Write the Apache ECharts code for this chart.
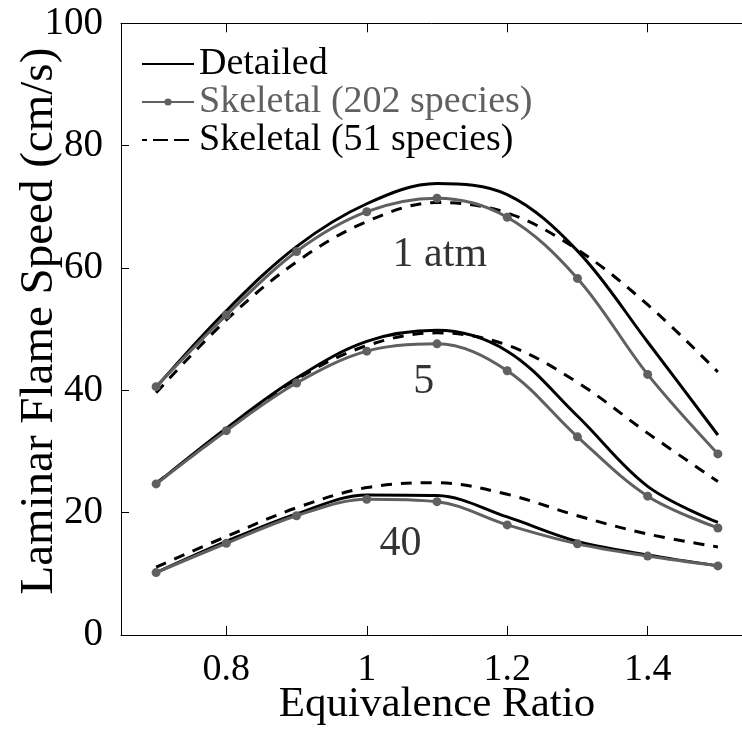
<!DOCTYPE html>
<html>
<head>
<meta charset="utf-8">
<script src="https://cdn.jsdelivr.net/npm/echarts@6/dist/echarts.min.js"></script>
<style>
html,body{margin:0;padding:0;background:#fff;}
#chart{width:742px;height:730px;}
</style>
</head>
<body>
<div id="chart"></div>
<script>
// Equivalence ratio values
const phi = [0.7, 0.8, 0.9, 1.0, 1.1, 1.2, 1.3, 1.4, 1.5];

// 1 atm
const detailed1   = [40.5, 53.0, 63.5, 70.5, 73.8, 72.0, 62.8, 47.9, 32.7];
const skel202_1   = [40.6, 52.3, 62.7, 69.2, 71.4, 68.3, 58.3, 42.6, 29.6];
const skel51_1    = [39.6, 51.5, 61.0, 67.6, 70.7, 69.0, 63.0, 54.0, 43.0];
// 5 atm
const detailed5   = [24.7, 33.8, 42.0, 48.0, 49.8, 46.4, 35.8, 24.3, 18.4];
const skel202_5   = [24.7, 33.4, 41.2, 46.4, 47.6, 43.2, 32.4, 22.7, 17.5];
const skel51_5    = [24.8, 33.5, 41.8, 47.3, 49.4, 47.4, 41.3, 33.0, 25.1];
// 40 atm
const detailed40  = [10.2, 15.3, 19.8, 22.9, 22.8, 19.3, 15.3, 13.1, 11.3];
const skel202_40  = [10.2, 15.0, 19.5, 22.2, 21.8, 18.0, 14.9, 12.9, 11.3];
const skel51_40   = [11.1, 16.1, 20.8, 24.1, 24.9, 23.0, 19.5, 16.5, 14.4];

// Tick labels
const xTicks = [0.8, 1.0, 1.2, 1.4];
const yTicks = [0, 20, 40, 60, 80, 100];

// Legend names
const nameDetailed = 'Detailed';
const name202 = 'Skeletal (202 species)';
const name51 = 'Skeletal (51 species)';

// Annotations (text, phi, speed)
const annotText = ['1 atm', '5', '40'];
const annotX = [1.104, 1.081, 1.048];
const annotY = [62.2, 41.4, 14.9];

const FONT = '"Liberation Serif", "Times New Roman", serif';
const GRAY = '#606060';

function pairs(ys){ return phi.map((x,i)=>[x, ys[i]]); }

function detailedSeries(ys){
  return {name: nameDetailed, type:'line', data: pairs(ys), smooth: 0.35,
    symbol:'none', lineStyle:{color:'#000', width:3}, itemStyle:{color:'#000'}, z:3};
}
function s202Series(ys){
  return {name: name202, type:'line', data: pairs(ys), smooth: 0.35,
    symbol:'circle', symbolSize:9, showSymbol:true,
    lineStyle:{color:GRAY, width:3}, itemStyle:{color:GRAY}, z:4};
}
function s51Series(ys){
  return {name: name51, type:'line', data: pairs(ys), smooth: 0.35,
    symbol:'none', lineStyle:{color:'#000', width:3, type:[11,9]}, itemStyle:{color:'#000'}, z:2};
}

const chart = echarts.init(document.getElementById('chart'), null, {renderer:'canvas'});

const option = {
  animation: false,
  backgroundColor: '#fff',
  grid: {left: 121, right: -11, top: 23.3, bottom: 95, containLabel: false, outerBoundsMode: 'none'},
  legend: {
    orient: 'vertical', left: 141, top: 45, padding: 0,
    itemWidth: 52, itemHeight: 9, itemGap: 0,
    textStyle: {fontFamily: FONT, fontSize: 38, lineHeight: 36.7, color:'#000'},
    data: [
      {name: nameDetailed, textStyle:{color:'#000'}, itemStyle:{opacity:0}},
      {name: name202, textStyle:{color:GRAY}},
      {name: name51, textStyle:{color:'#000'}, itemStyle:{opacity:0},
        lineStyle:{type:[15,6], dashOffset:-11}}
    ]
  },
  xAxis: [{
    type: 'value', min: 0.65, max: 1.55, position: 'bottom',
    name: 'Equivalence Ratio', nameLocation: 'middle', nameGap: 48, nameMoveOverlap: false,
    nameTextStyle: {fontFamily: FONT, fontSize: 43, color:'#000'},
    axisLine: {show: true, onZero: false, lineStyle:{color:'#000', width:1}},
    axisTick: {show: true, inside: true, length: 9, customValues: xTicks, lineStyle:{color:'#000'}},
    axisLabel: {show: true, customValues: xTicks, margin: 16,
      fontFamily: FONT, fontSize: 38, color:'#000',
      formatter: v => String(+v.toFixed(1))},
    splitLine: {show:false}
  },{
    type: 'value', min: 0.65, max: 1.55, position: 'top',
    axisLine: {show: true, onZero: false, lineStyle:{color:'#000', width:1}},
    axisTick: {show: true, inside: true, length: 9, customValues: xTicks, lineStyle:{color:'#000'}},
    axisLabel: {show: false},
    splitLine: {show:false}
  }],
  yAxis: [{
    type: 'value', min: 0, max: 100, interval: 20,
    name: 'Laminar Flame Speed (cm/s)', nameLocation: 'middle', nameGap: 58, nameMoveOverlap: false,
    nameTextStyle: {fontFamily: FONT, fontSize: 47, color:'#000', padding: [0, 0, 0, 16]},
    axisLine: {show: true, lineStyle:{color:'#000', width:1}},
    axisTick: {show: true, inside: true, length: 8, customValues: yTicks, lineStyle:{color:'#000'}},
    axisLabel: {show: true, customValues: yTicks, margin: 18,
      fontFamily: FONT, fontSize: 39, color:'#000'},
    splitLine: {show:false}
  }],
  series: [
    detailedSeries(detailed1), s202Series(skel202_1), s51Series(skel51_1),
    detailedSeries(detailed5), s202Series(skel202_5), s51Series(skel51_5),
    detailedSeries(detailed40), s202Series(skel202_40), s51Series(skel51_40),
    {
      type: 'scatter', name: 'annot', symbolSize: 0, silent: true,
      data: annotText.map((t,i)=>({value:[annotX[i], annotY[i]], label:{formatter: t}})),
      label: {show: true, position: 'inside', fontFamily: FONT, fontSize: 42, color:'#000'},
      z: 5
    }
  ]
};
chart.setOption(option);
</script>
</body>
</html>
